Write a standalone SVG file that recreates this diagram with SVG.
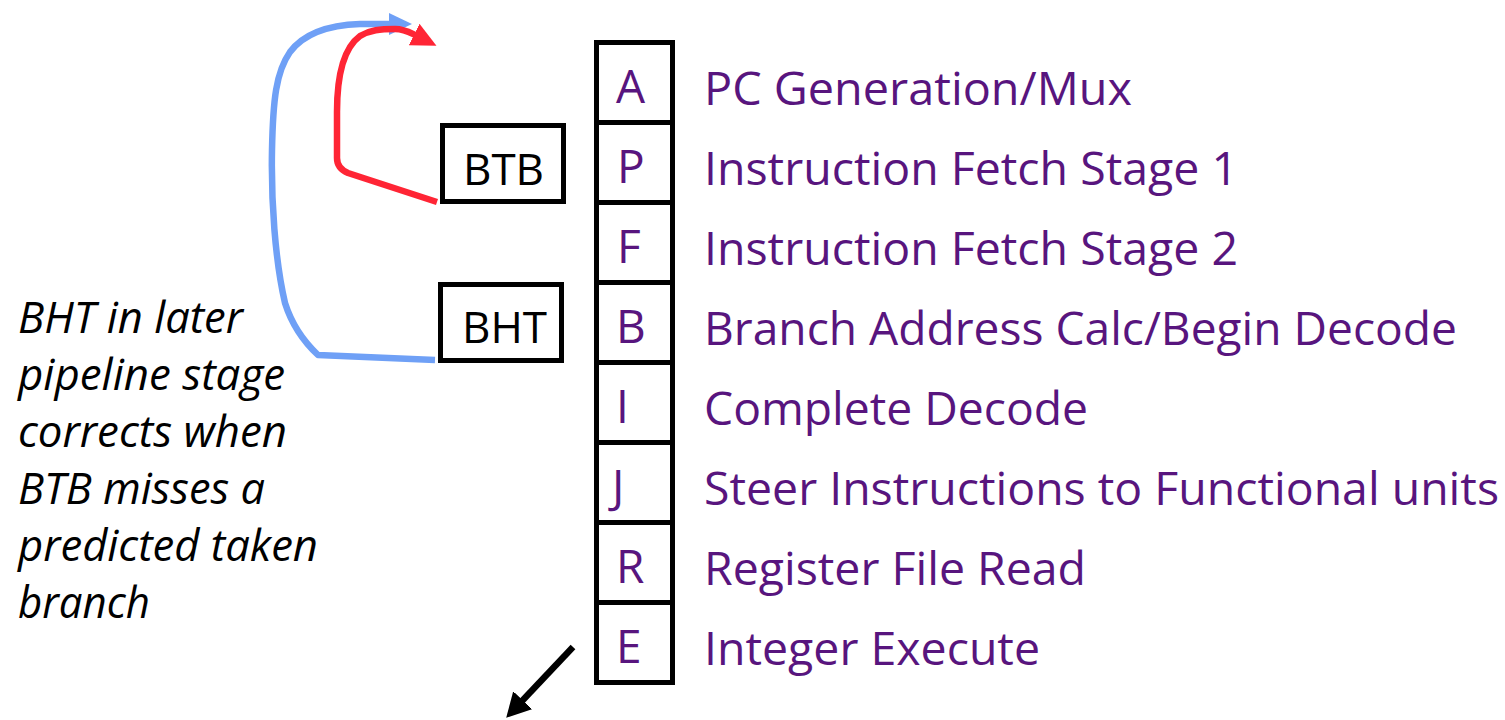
<svg xmlns="http://www.w3.org/2000/svg" width="1505" height="720" viewBox="0 0 1505 720">
<style>
.box{fill:#fff;stroke:#000;stroke-width:5}
.st{font-family:"Open Sans","Liberation Sans",sans-serif;font-size:46px;fill:#58157e}
.blk{font-family:"Open Sans","Liberation Sans",sans-serif;font-size:44px;fill:#000}
.it{font-family:"Open Sans","Liberation Sans",sans-serif;font-size:43px;font-style:italic;fill:#000}
.ln{fill:none;stroke-width:6.5;stroke-linecap:butt;stroke-linejoin:round}
</style>
<defs>
<marker id="ab" markerUnits="userSpaceOnUse" markerWidth="24" markerHeight="24" refX="1" refY="11" orient="auto" viewBox="0 0 24 22"><path d="M0,0 L23,11 L0,22 z" fill="#6fa0f6"/></marker>
<marker id="ar" markerUnits="userSpaceOnUse" markerWidth="26" markerHeight="26" refX="1" refY="12" orient="auto" viewBox="0 0 26 24"><path d="M0,0 L25,12 L0,24 z" fill="#ff2535"/></marker>
<marker id="ak" markerUnits="userSpaceOnUse" markerWidth="26" markerHeight="28" refX="1" refY="13" orient="auto" viewBox="0 0 26 26"><path d="M0,0 L24,13 L0,26 z" fill="#000"/></marker>
</defs>
<rect width="1505" height="720" fill="#fff"/>
<g id="connectors">
<path class="ln" stroke="#6fa0f6" d="M435,360 L318,355 C302,340 291,322 285,303 C275,260 271,200 272,150 C273,100 276,72 290,52 C305,32 330,25 360,24 L390,24" marker-end="url(#ab)"/>
<path class="ln" stroke="#ff2535" d="M437,202 L348,173 C341,170 337,165 337,158 L337,112 C337,72 345,47 360,36 C370,30 380,29 395,29 C404,29 409,32 415,35" marker-end="url(#ar)"/>
<path class="ln" stroke="#000" stroke-width="7" d="M573,647 L522,701" marker-end="url(#ak)"/>
</g>
<g id="stage-A"><rect class="box" x="596.5" y="42.5" width="76" height="80"/><text class="st" x="616" y="103">A</text><text class="st" x="704" y="105" textLength="428" lengthAdjust="spacingAndGlyphs">PC Generation/Mux</text></g>
<g id="stage-P"><rect class="box" x="596.5" y="122.5" width="76" height="80"/><text class="st" x="617" y="183">P</text><text class="st" x="704" y="185" textLength="534" lengthAdjust="spacingAndGlyphs">Instruction Fetch Stage 1</text></g>
<g id="stage-F"><rect class="box" x="596.5" y="202.5" width="76" height="80"/><text class="st" x="617" y="263">F</text><text class="st" x="704" y="265" textLength="534" lengthAdjust="spacingAndGlyphs">Instruction Fetch Stage 2</text></g>
<g id="stage-B"><rect class="box" x="596.5" y="282.5" width="76" height="80"/><text class="st" x="616" y="343">B</text><text class="st" x="704" y="345" textLength="753" lengthAdjust="spacingAndGlyphs">Branch Address Calc/Begin Decode</text></g>
<g id="stage-I"><rect class="box" x="596.5" y="362.5" width="76" height="80"/><text class="st" x="616" y="423">I</text><text class="st" x="704" y="425" textLength="384" lengthAdjust="spacingAndGlyphs">Complete Decode</text></g>
<g id="stage-J"><rect class="box" x="596.5" y="442.5" width="76" height="80"/><text class="st" x="612" y="503">J</text><text class="st" x="704" y="505" textLength="795" lengthAdjust="spacingAndGlyphs">Steer Instructions to Functional units</text></g>
<g id="stage-R"><rect class="box" x="596.5" y="522.5" width="76" height="80"/><text class="st" x="616" y="583">R</text><text class="st" x="704" y="585" textLength="382" lengthAdjust="spacingAndGlyphs">Register File Read</text></g>
<g id="stage-E"><rect class="box" x="596.5" y="602.5" width="76" height="80"/><text class="st" x="616" y="663">E</text><text class="st" x="704" y="665" textLength="336" lengthAdjust="spacingAndGlyphs">Integer Execute</text></g>
<g id="BTB"><rect class="box" x="442.5" y="125.5" width="121" height="76"/><text class="blk" x="463" y="185" textLength="81" lengthAdjust="spacingAndGlyphs">BTB</text></g>
<g id="BHT"><rect class="box" x="440.5" y="284.5" width="121" height="76"/><text class="blk" x="462" y="343" textLength="85" lengthAdjust="spacingAndGlyphs">BHT</text></g>
<g id="note">
<text class="it" x="18" y="333" textLength="225" lengthAdjust="spacingAndGlyphs">BHT in later</text>
<text class="it" x="18" y="390" textLength="267" lengthAdjust="spacingAndGlyphs">pipeline stage</text>
<text class="it" x="18" y="447" textLength="269" lengthAdjust="spacingAndGlyphs">corrects when</text>
<text class="it" x="18" y="504" textLength="247" lengthAdjust="spacingAndGlyphs">BTB misses a</text>
<text class="it" x="18" y="561" textLength="300" lengthAdjust="spacingAndGlyphs">predicted taken</text>
<text class="it" x="18" y="618" textLength="132" lengthAdjust="spacingAndGlyphs">branch</text>
</g>
</svg>
